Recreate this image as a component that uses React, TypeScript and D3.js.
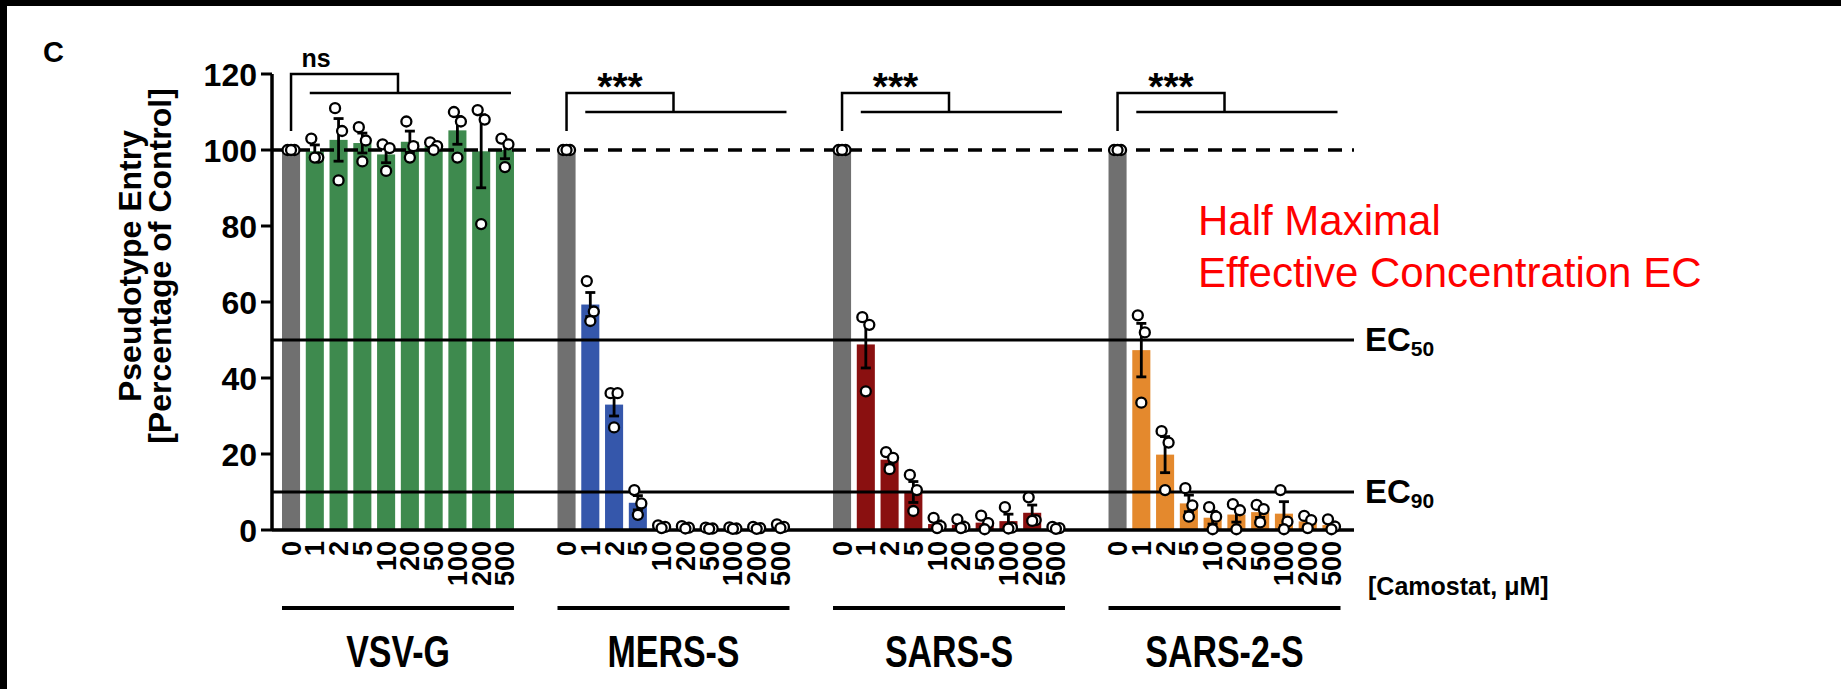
import React from 'react';
import * as d3 from 'd3';

// pseudotypes and camostat concentrations (µM)
const GROUPS = ['VSV-G', 'MERS-S', 'SARS-S', 'SARS-2-S'];
const CONCS = ['0', '1', '2', '5', '10', '20', '50', '100', '200', '500'];
const COLORS = ['#3e8a4e', '#3557ab', '#8a1010', '#e4892d'];
const CONTROL_COLOR = '#707070';

// three replicates per concentration, % of control
const VSV_G = [
  [100, 100, 100], [103, 98, 98], [111, 105, 92], [106, 102.5, 97], [101.5, 100.5, 94.5],
  [107.5, 101, 98], [102, 101, 100], [110, 107.5, 98], [110.5, 108, 80.5], [103, 101.5, 95.5],
];
const MERS_S = [
  [100, 100, 100], [65.5, 57.5, 55], [36, 36, 27], [10.5, 7, 4], [1.2, 0.8, 0.5],
  [1, 0.6, 0.4], [0.6, 0.4, 0.3], [0.7, 0.4, 0.3], [0.8, 0.5, 0.3], [1.5, 0.8, 0.5],
];
const SARS_S = [
  [100, 100, 100], [56, 54, 36.5], [20.5, 19, 16], [14.5, 10.5, 5], [3.2, 1, 0.5],
  [2.8, 0.8, 0.5], [3.8, 1.8, 0.2], [6, 0.6, 0.4], [8.6, 2.6, 2.4], [0.8, 0.5, 0.3],
];
const SARS_2_S = [
  [100, 100, 100], [56.5, 52, 33.5], [26, 23, 10.5], [11, 6.5, 3.5], [6, 3.5, 0.2],
  [6.8, 5.2, 0.2], [6.6, 5.5, 2], [10.5, 2.2, 0.2], [3.7, 2.6, 0.5], [2.8, 0.9, 0.2],
];
const REPLICATES = [VSV_G, MERS_S, SARS_S, SARS_2_S];

const SIG_LABELS = ['ns', '***', '***', '***'];
const SIG_LEVELS = [120, 115, 115, 115];
const Y_TICKS = [0, 20, 40, 60, 80, 100, 120];
const EC_VALUES = [50, 10];
const EC_LABELS = ['50', '90'];

const W = 1841;
const H = 689;
const FONT = 'Liberation Sans, Arial, Helvetica, sans-serif';
const JITTER = [-3.5, 3.5, 0];

const App = () => {
  const y = d3.scaleLinear().domain([0, 120]).range([530, 74]);
  const xGroup = d3.scaleBand().domain(GROUPS).range([282, 1340.5]).paddingInner(0.158);
  const xConc = d3.scaleBand().domain(CONCS).range([0, xGroup.bandwidth()]).paddingInner(0.24);
  const bw = xConc.bandwidth();
  const axisX = 272;
  const lineEnd = 1354;

  const bars = GROUPS.flatMap((g, gi) =>
    CONCS.map((c, ci) => {
      const vals = REPLICATES[gi][ci];
      const mean = d3.mean(vals);
      const sem = ci === 0 ? 0 : (d3.deviation(vals) || 0) / Math.sqrt(vals.length);
      return { g, gi, c, ci, vals, mean, sem, x: xGroup(g) + xConc(c) };
    })
  );

  return (
    <svg width={W} height={H} style={{ display: 'block', fontFamily: FONT }}>
      <style>{'html,body{margin:0;padding:0;overflow:hidden;background:#fff}'}</style>
      <rect x={0} y={0} width={W} height={H} fill="#fff" />
      <rect x={0} y={0} width={W} height={6} fill="#000" />
      <rect x={0} y={0} width={7} height={H} fill="#000" />

      <text x={43} y={62} fontSize={29} fontWeight="bold">C</text>

      {/* y axis title */}
      <g fontWeight="bold" fontSize={32} textAnchor="middle">
        <text transform="translate(141,266) rotate(-90)">Pseudotype Entry</text>
        <text transform="translate(171,266) rotate(-90)">[Percentage of Control]</text>
      </g>

      {/* bars */}
      {bars.map(d => (
        <rect key={`b${d.gi}-${d.ci}`} x={d.x} y={y(d.mean)} width={bw} height={y(0) - y(d.mean)}
          fill={d.ci === 0 ? CONTROL_COLOR : COLORS[d.gi]} />
      ))}

      {/* reference lines */}
      <line x1={axisX} x2={lineEnd} y1={y(100)} y2={y(100)} stroke="#000" strokeWidth={3.5} strokeDasharray="14 10" />
      {EC_VALUES.map((v, i) => (
        <g key={`ec${i}`}>
          <line x1={axisX} x2={lineEnd} y1={y(v)} y2={y(v)} stroke="#000" strokeWidth={3.2} />
          <text x={1365} y={y(v) + 11} fontSize={33} fontWeight="bold">EC<tspan fontSize={21} dy={5}>{EC_LABELS[i]}</tspan></text>
        </g>
      ))}

      {/* y axis */}
      <line x1={axisX} x2={axisX} y1={y(120)} y2={y(0)} stroke="#000" strokeWidth={3.5} />
      <line x1={axisX} x2={lineEnd} y1={y(0)} y2={y(0)} stroke="#000" strokeWidth={3.5} />
      {Y_TICKS.map(t => (
        <g key={`t${t}`}>
          <line x1={axisX - 11} x2={axisX} y1={y(t)} y2={y(t)} stroke="#000" strokeWidth={3} />
          <text x={axisX - 15} y={y(t)} dy="0.36em" textAnchor="end" fontSize={32} fontWeight="bold">{t}</text>
        </g>
      ))}

      {/* error bars */}
      {bars.filter(d => d.sem > 0).map(d => {
        const cx = d.x + bw / 2;
        return (
          <g key={`e${d.gi}-${d.ci}`} stroke="#000" strokeWidth={2.8}>
            <line x1={cx} x2={cx} y1={y(d.mean + d.sem)} y2={y(Math.max(0, d.mean - d.sem))} />
            <line x1={cx - 5} x2={cx + 5} y1={y(d.mean + d.sem)} y2={y(d.mean + d.sem)} />
            <line x1={cx - 5} x2={cx + 5} y1={y(Math.max(0, d.mean - d.sem))} y2={y(Math.max(0, d.mean - d.sem))} />
          </g>
        );
      })}

      {/* replicate points */}
      {bars.map(d => d.vals.map((v, k) => (
        <circle key={`p${d.gi}-${d.ci}-${k}`} cx={d.x + bw / 2 + JITTER[k]} cy={y(v)} r={5}
          fill="#fff" stroke="#000" strokeWidth={2.3} />
      )))}

      {/* significance brackets */}
      {GROUPS.map((g, gi) => {
        const x0 = xGroup(g);
        const left = x0 + xConc('0') + bw / 2;
        const right = x0 + (xConc('10') + xConc('20')) / 2 + bw / 2;
        const top = y(SIG_LEVELS[gi]);
        const low = y(SIG_LEVELS[gi] - 5);
        return (
          <g key={`s${gi}`}>
            <path d={`M${left},${y(105)}V${top}H${right}V${low}`} fill="none" stroke="#000" strokeWidth={2.5} />
            <line x1={x0 + xConc('1') + 4} x2={x0 + xConc('500') + bw - 3} y1={low} y2={low} stroke="#000" strokeWidth={2.5} />
            {SIG_LABELS[gi] === 'ns'
              ? <text x={left + 25} y={top - 7} textAnchor="middle" fontSize={25} fontWeight="bold">ns</text>
              : <text x={(left + right) / 2} y={top + 7} textAnchor="middle" fontSize={39} fontWeight="bold">{SIG_LABELS[gi]}</text>}
          </g>
        );
      })}

      {/* x tick labels */}
      {bars.map(d => (
        <text key={`l${d.gi}-${d.ci}`} transform={`translate(${d.x + bw / 2 + 9.5},541) rotate(-90)`}
          textAnchor="end" fontSize={27} fontWeight="bold">{d.c}</text>
      ))}
      <text x={1368} y={595} fontSize={25} fontWeight="bold">[Camostat, μM]</text>

      {/* group labels */}
      {GROUPS.map(g => (
        <g key={`g${g}`}>
          <line x1={xGroup(g)} x2={xGroup(g) + xGroup.bandwidth()} y1={608} y2={608} stroke="#000" strokeWidth={4} />
          <text transform={`translate(${xGroup(g) + xGroup.bandwidth() / 2},667) scale(0.97,1.25)`}
            textAnchor="middle" fontSize={35} fontWeight="bold">{g}</text>
        </g>
      ))}

      <g fill="#ff0000" fontSize={42}>
        <text x={1198} y={235}>Half Maximal</text>
        <text x={1198} y={287}>Effective Concentration EC</text>
      </g>
    </svg>
  );
};

export default App;
